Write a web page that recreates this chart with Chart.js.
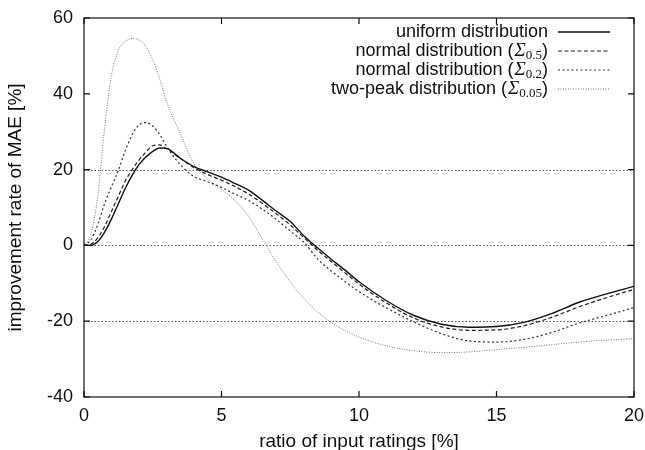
<!DOCTYPE html>
<html lang="en">
<head>
<meta charset="UTF-8">
<title>improvement rate of MAE</title>
<script src="https://cdn.jsdelivr.net/npm/chart.js"></script>
<style>
  body { margin: 0; background: #fff; }
  #wrap { width: 645px; height: 450px; position: relative; }
</style>
</head>
<body>
<div id="wrap"><canvas id="maeChart"></canvas></div>
<script>
// ratio of input ratings [%]
const ratios = [0, 0.25, 0.5, 0.75, 1, 1.25, 1.5, 1.75, 2, 2.25, 2.5, 2.75, 3, 3.5, 4, 4.5, 5, 5.5, 6, 6.5,
                7, 7.5, 8, 8.5, 9, 9.5, 10, 11, 12, 13, 14, 15, 16, 17, 18, 19, 20];

// improvement rate of MAE [%]
const uniformDist = [0, 0, 1, 3.5, 7, 11, 15, 18.5, 21.3, 23.3, 24.8, 25.7, 25.6, 23, 20.8, 19.4, 18, 16.3, 14.5, 11.8,
                     9, 6.3, 2.5, -0.7, -3.7, -6.6, -9.6, -14.6, -18.5, -20.8, -21.6, -21.4, -20.3, -18, -15, -12.8, -10.8];
const normal05 = [0, 0.3, 2, 5, 9, 13, 17, 20, 22.5, 24.6, 26.3, 26.5, 25.5, 23, 20.5, 18.7, 17.2, 15.5, 13.5, 11,
                  8.3, 5.4, 2, -1.3, -4.3, -7.3, -10.2, -15.2, -19.2, -21.5, -22.4, -22.3, -21.2, -19, -16.2, -13.8, -11.6];
const normal02 = [0, 1.5, 5.5, 11, 15.5, 19.8, 25, 29.2, 31.8, 32.4, 31.5, 29.3, 26.2, 21.3, 18.2, 16.8, 15.3, 13.5, 11.8, 9.5,
                  6.8, 3.8, 0.8, -3.6, -6.8, -9.6, -12.2, -16.5, -20.2, -23.3, -25.2, -25.5, -24.8, -23, -20.5, -18.5, -16.4];
const twoPeak = [0, 3, 13, 31, 45, 51.5, 53.8, 54.6, 54.2, 52.5, 49, 44, 38, 29.5, 21.5, 17.5, 14.8, 11.8, 7.5, 1.5,
                 -4.4, -9.6, -14, -17.6, -20.4, -22.5, -24.2, -26.5, -27.8, -28.3, -28.1, -27.5, -26.9, -26.2, -25.5, -25, -24.6];

const xTicks = [0, 5, 10, 15, 20];
const yTicks = [-40, -20, 0, 20, 40, 60];
const gridLevels = [-20, 0, 20];

const legendNames = ['uniform distribution', 'normal distribution (', 'normal distribution (', 'two-peak distribution ('];
const legendSubs = [null, '0.5', '0.2', '0.05'];

const FONT = '"Liberation Sans", Arial, sans-serif';

function pts(ys) {
    return ratios.map((x, i) => ({ x: x, y: ys[i] }));
}

// grid, inward ticks and frame, drawn through the scales
const framePlugin = {
    id: 'frame',
    beforeDatasetsDraw(chart) {
        const { ctx, chartArea: a, scales: { x, y } } = chart;
        ctx.save();
        ctx.strokeStyle = '#555';
        ctx.lineWidth = 1;
        ctx.setLineDash([1.5, 2]);
        gridLevels.forEach(v => {
            const py = Math.round(y.getPixelForValue(v)) + 0.5;
            ctx.beginPath();
            ctx.moveTo(a.left, py);
            ctx.lineTo(a.right, py);
            ctx.stroke();
        });
        ctx.restore();
    },
    afterDatasetsDraw(chart) {
        const { ctx, chartArea: a, scales: { x, y } } = chart;
        ctx.save();
        ctx.strokeStyle = '#111';
        ctx.lineWidth = 1.2;
        ctx.setLineDash([]);
        ctx.strokeRect(a.left, a.top, a.right - a.left, a.bottom - a.top);
        ctx.beginPath();
        xTicks.forEach(v => {
            const px = x.getPixelForValue(v);
            ctx.moveTo(px, a.bottom); ctx.lineTo(px, a.bottom - 6);
            ctx.moveTo(px, a.top); ctx.lineTo(px, a.top + 6);
        });
        yTicks.forEach(v => {
            const py = y.getPixelForValue(v);
            ctx.moveTo(a.left, py); ctx.lineTo(a.left + 6, py);
            ctx.moveTo(a.right, py); ctx.lineTo(a.right - 6, py);
        });
        ctx.stroke();
        ctx.restore();
    }
};

// gnuplot-style key: text right-aligned, line sample to the right
const keyPlugin = {
    id: 'key',
    afterDraw(chart) {
        const ctx = chart.ctx;
        const textRight = 548, lineL = 558, lineR = 610;
        const rowY = [32, 51, 70, 89];
        ctx.save();
        chart.data.datasets.forEach((ds, i) => {
            const yy = rowY[i];
            ctx.fillStyle = '#111';
            ctx.textBaseline = 'middle';
            ctx.textAlign = 'right';
            let right = textRight;
            if (legendSubs[i]) {
                ctx.font = '18px ' + FONT;
                ctx.fillText(')', right, yy);
                right -= ctx.measureText(')').width;
                ctx.font = '13px "Liberation Serif", serif';
                ctx.fillText(legendSubs[i], right, yy + 5);
                right -= ctx.measureText(legendSubs[i]).width;
                ctx.font = 'italic 19px "Liberation Serif", serif';
                ctx.fillText('\u03A3', right, yy);
                right -= ctx.measureText('\u03A3').width + 1;
            }
            ctx.font = '18px ' + FONT;
            ctx.fillText(legendNames[i], right, yy);

            ctx.strokeStyle = ds.borderColor;
            ctx.lineWidth = ds.borderWidth;
            ctx.setLineDash(ds.borderDash || []);
            ctx.beginPath();
            ctx.moveTo(lineL, yy);
            ctx.lineTo(lineR, yy);
            ctx.stroke();
        });
        ctx.restore();
    }
};

const ctx = document.getElementById('maeChart').getContext('2d');
const maeChart = new Chart(ctx, {
    type: 'line',
    data: {
        datasets: [
            { label: 'uniform distribution', data: pts(uniformDist), borderColor: '#111', borderWidth: 1.4 },
            { label: 'normal distribution (\u03A30.5)', data: pts(normal05), borderColor: '#222', borderWidth: 1.2, borderDash: [4, 2.5] },
            { label: 'normal distribution (\u03A30.2)', data: pts(normal02), borderColor: '#333', borderWidth: 1.2, borderDash: [2, 2.5] },
            { label: 'two-peak distribution (\u03A30.05)', data: pts(twoPeak), borderColor: '#777', borderWidth: 1, borderDash: [1, 1.5] }
        ]
    },
    options: {
        responsive: true,
        maintainAspectRatio: false,
        animation: false,
        layout: { padding: { left: 0, right: 11, top: 18, bottom: 0 } },
        elements: {
            point: { radius: 0 },
            line: { tension: 0.4, cubicInterpolationMode: 'monotone', fill: false }
        },
        plugins: { legend: { display: false }, tooltip: { enabled: false } },
        scales: {
            x: {
                type: 'linear',
                min: 0, max: 20,
                afterFit: s => { s.height = 53; s.paddingLeft = 0; s.paddingRight = 0; },
                afterBuildTicks: s => { s.ticks = xTicks.map(v => ({ value: v })); },
                grid: { display: false, drawTicks: false },
                border: { display: false },
                ticks: { color: '#111', font: { size: 18, family: FONT }, padding: 8, maxRotation: 0 },
                title: { display: true, text: 'ratio of input ratings [%]', color: '#111',
                         font: { size: 19, family: FONT }, padding: { top: 0, bottom: -3 } }
            },
            y: {
                min: -40, max: 60,
                afterFit: s => { s.width = 84; s.paddingTop = 0; s.paddingBottom = 0; },
                afterBuildTicks: s => { s.ticks = yTicks.map(v => ({ value: v })); },
                grid: { display: false, drawTicks: false },
                border: { display: false },
                ticks: { color: '#111', font: { size: 18, family: FONT }, padding: 11 },
                title: { display: true, text: 'improvement rate of MAE [%]', color: '#111',
                         font: { size: 19, family: FONT }, padding: { top: 4, bottom: 0 } }
            }
        }
    },
    plugins: [framePlugin, keyPlugin]
});
</script>
</body>
</html>
